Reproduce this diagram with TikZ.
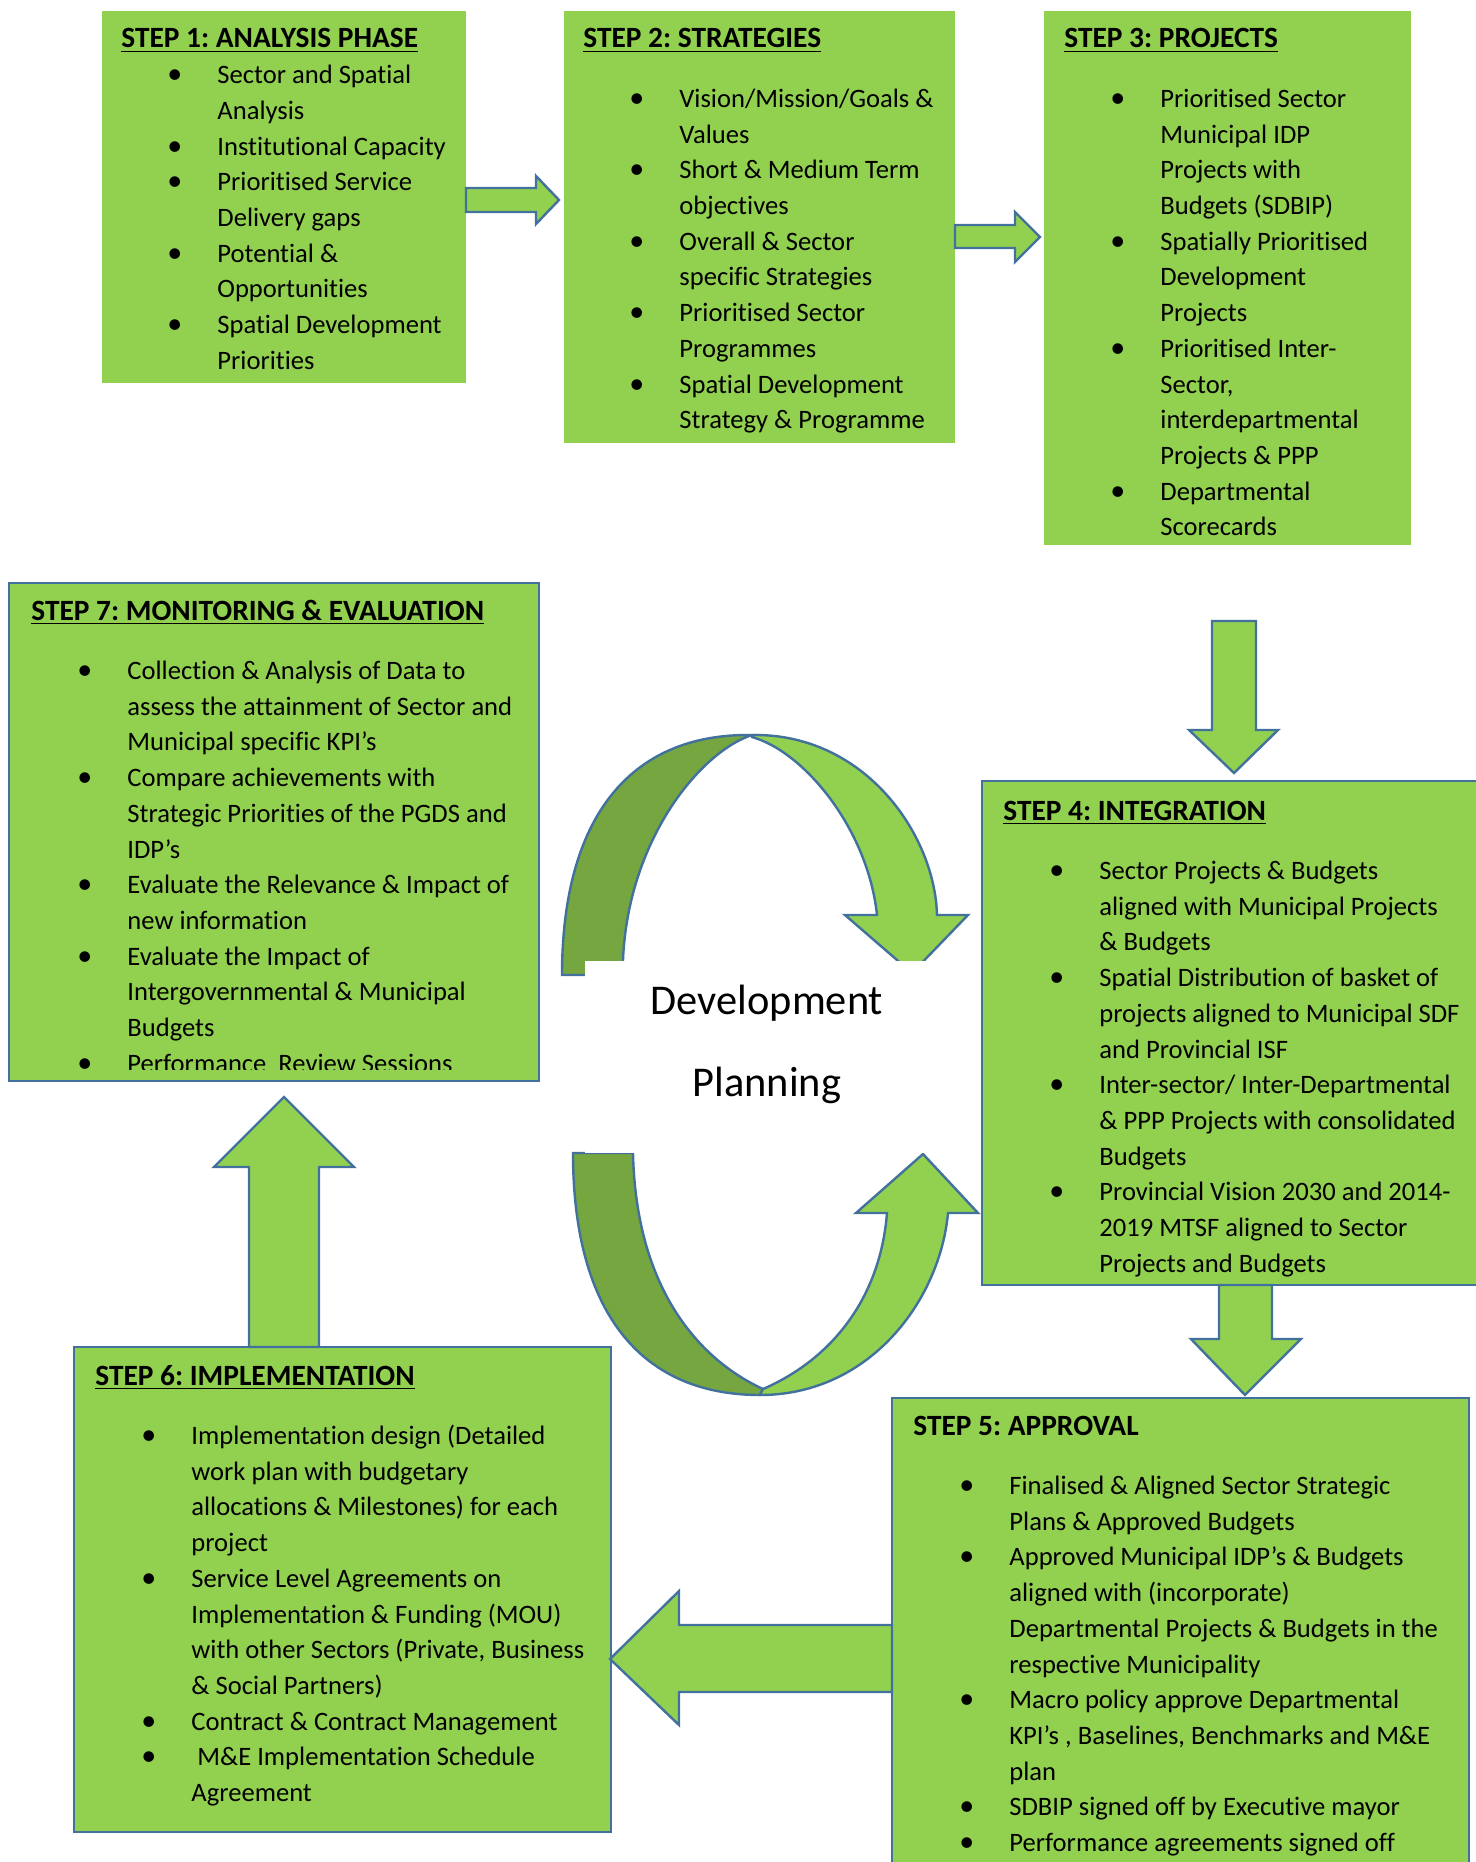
\documentclass[tikz,border=0pt]{standalone}
\usepackage{fontspec}
\setmainfont{Carlito}[Ligatures={TeX,NoCommon}]
\usepackage{tikz}
\usetikzlibrary{fit}
\definecolor{leaf}{HTML}{92D050}
\definecolor{moss}{HTML}{76A640}
\definecolor{edge}{HTML}{41719C}
\tikzstyle{plainbox} = [fill=leaf,inner sep=0pt,outer sep=0pt]
\tikzstyle{framebox} = [fill=leaf,draw=edge,line width=1.2pt,inner sep=0pt,outer sep=0pt]
\tikzstyle{blockarrow} = [fill=leaf,draw=edge,line width=1.2pt,line join=miter]
\tikzstyle{backarc} = [fill=moss,draw=edge,line width=1.2pt]
\tikzstyle{steptext} = [inner sep=0pt,anchor=base west]
\tikzstyle{centretext} = [inner sep=0pt,anchor=base,font=\fontsize{21.2pt}{25pt}\selectfont]

\frenchspacing
\newcommand{\stepbody}[1]{\parbox[t]{300pt}{\fontsize{13.3pt}{17.85pt}\selectfont #1}}
\newcommand{\steptitle}[1]{{\fontsize{14.7pt}{17.85pt}\selectfont\bfseries\underline{#1}}\par}
\newcommand{\plaintitle}[1]{{\fontsize{14.7pt}{17.85pt}\selectfont\bfseries #1}\par}
\newcommand{\items}{\leftskip=48pt }
\newcommand{\bul}{\par\noindent\llap{{\fontsize{15pt}{17.85pt}\selectfont\textbullet}\hspace{17.5pt}}}

\begin{document}
\begin{tikzpicture}[x=0.5pt,y=-0.5pt]
  \useasboundingbox (0,0) rectangle (1476,1862);

  % step boxes
  \node[plainbox, fit={(102,11) (466,383)}] (S1) {};
  \node[plainbox, fit={(564,11) (955,443)}] (S2) {};
  \node[plainbox, fit={(1044,11) (1411,545)}] (S3) {};
  \node[framebox, fit={(982,781) (1490,1285)}] (S4) {};
  \node[framebox, fit={(892,1398) (1469,1880)}] (S5) {};
  \node[framebox, fit={(74,1347) (611,1832)}] (S6) {};
  \node[framebox, fit={(9,583) (539,1081)}] (S7) {};

  % block arrows between the steps
  \draw[blockarrow] (S1.east |- 0,188) -- (536,188) -- (536,176) -- (559,200) -- (536,224) -- (536,212) -- (S1.east |- 0,212) -- cycle;
  \draw[blockarrow] (S2.east |- 0,225) -- (1015,225) -- (1015,212) -- (1040,237) -- (1015,262) -- (1015,248) -- (S2.east |- 0,248) -- cycle;
  \draw[blockarrow] (1212,621) -- (1256,621) -- (1256,730) -- (1278,730) -- (1234,773) -- (1189,730) -- (1212,730) -- cycle;
  \draw[blockarrow] (S4.south -| 1219,0) -- (1219,1339) -- (1191,1339) -- (1245,1395) -- (1301,1339) -- (1272,1339) -- (S4.south -| 1272,0) -- cycle;
  \draw[blockarrow] (S5.west |- 0,1625) -- (679,1625) -- (679,1591) -- (610,1659) -- (679,1725) -- (679,1692) -- (S5.west |- 0,1692) -- cycle;
  \draw[blockarrow] (S6.north -| 249,0) -- (249,1167) -- (214,1167) -- (284,1097) -- (354,1167) -- (319,1167) -- (S6.north -| 319,0) -- cycle;

  % planning cycle
  \draw[backarc] (562,975) .. controls (562,819) and (629,733) .. (752,735) .. controls (700,752) and (628,840) .. (623,960) -- (623,975) -- cycle;
  \draw[blockarrow] (752,735) .. controls (865,733) and (935,835) .. (937,915) -- (968,915) -- (912,973) -- (845,915) -- (877,915) .. controls (868,830) and (805,752) .. (752,737) -- cycle;
  \draw[backarc] (573,1153) .. controls (573,1310) and (639,1395) .. (760,1395) -- (763,1389) .. controls (700,1360) and (636,1290) .. (633,1153) -- cycle;
  \draw[blockarrow] (760,1395) .. controls (870,1395) and (940,1300) .. (948,1213) -- (978,1213) -- (923,1154) -- (856,1213) -- (887,1213) .. controls (880,1300) and (830,1360) .. (763,1389) -- cycle;
  \fill[white] (585,961) rectangle (975,1153);
  \node[centretext] (dev) at (767,1014) {Development};
  \node[centretext] (plan) at (767,1096) {Planning};

  % step texts
  \node[steptext] (T1) at (121,48) {\stepbody{\steptitle{STEP 1: ANALYSIS PHASE}\items
    \bul Sector and Spatial\newline Analysis
    \bul Institutional Capacity
    \bul Prioritised Service\newline Delivery gaps
    \bul Potential \&\newline Opportunities
    \bul Spatial Development\newline Priorities}};
  \node[steptext] (T2) at (583,48) {\stepbody{\steptitle{STEP 2: STRATEGIES}\vspace{11.9pt}\items
    \bul Vision/Mission/Goals \&\newline Values
    \bul Short \& Medium Term\newline objectives
    \bul Overall \& Sector\newline specific Strategies
    \bul Prioritised Sector\newline Programmes
    \bul Spatial Development\newline Strategy \& Programme}};
  \node[steptext] (T3) at (1064,48) {\stepbody{\steptitle{STEP 3: PROJECTS}\vspace{11.9pt}\items
    \bul Prioritised Sector\newline Municipal IDP\newline Projects with\newline Budgets (SDBIP)
    \bul Spatially Prioritised\newline Development\newline Projects
    \bul Prioritised Inter-\newline Sector,\newline interdepartmental\newline Projects \& PPP
    \bul Departmental\newline Scorecards}};
  \node[steptext] (T4) at (1003,820) {\stepbody{\steptitle{STEP 4: INTEGRATION}\vspace{11.9pt}\items
    \bul Sector Projects \& Budgets\newline aligned with Municipal Projects\newline \& Budgets
    \bul Spatial Distribution of basket of\newline projects aligned to Municipal SDF\newline and Provincial ISF
    \bul Inter-sector/ Inter-Departmental\newline \& PPP Projects with consolidated\newline Budgets
    \bul Provincial Vision 2030 and 2014-\newline 2019 MTSF aligned to Sector\newline Projects and Budgets}};
  \node[steptext] (T5) at (913,1435) {\stepbody{\plaintitle{STEP 5: APPROVAL}\vspace{11.9pt}\items
    \bul Finalised \& Aligned Sector Strategic\newline Plans \& Approved Budgets
    \bul Approved Municipal IDP's \& Budgets\newline aligned with (incorporate)\newline Departmental Projects \& Budgets in the\newline respective Municipality
    \bul Macro policy approve Departmental\newline KPI's , Baselines, Benchmarks and M\&E\newline plan
    \bul SDBIP signed off by Executive mayor
    \bul Performance agreements signed off}};
  \node[steptext] (T6) at (95,1385) {\stepbody{\steptitle{STEP 6: IMPLEMENTATION}\vspace{11.9pt}\items
    \bul Implementation design (Detailed\newline work plan with budgetary\newline allocations \& Milestones) for each\newline project
    \bul Service Level Agreements on\newline Implementation \& Funding (MOU)\newline with other Sectors (Private, Business\newline \& Social Partners)
    \bul Contract \& Contract Management
    \bul \ M\&E Implementation Schedule\newline Agreement}};
  \begin{scope}
    \clip (9,583) rectangle (539,1069);
    \node[steptext] (T7) at (31,620) {\stepbody{\steptitle{STEP 7: MONITORING \& EVALUATION}\vspace{11.9pt}\items
      \bul Collection \& Analysis of Data to\newline assess the attainment of Sector and\newline Municipal specific KPI's
      \bul Compare achievements with\newline Strategic Priorities of the PGDS and\newline IDP's
      \bul Evaluate the Relevance \& Impact of\newline new information
      \bul Evaluate the Impact of\newline Intergovernmental \& Municipal\newline Budgets
      \bul Performance\ \ Review Sessions}};
  \end{scope}
\end{tikzpicture}
\end{document}
